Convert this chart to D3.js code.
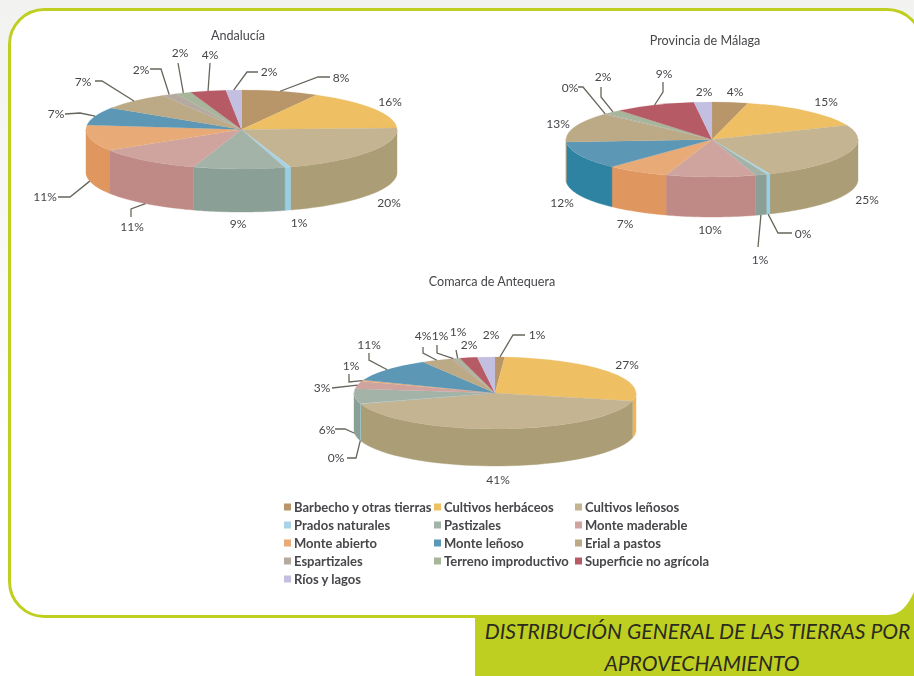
<!DOCTYPE html>
<html><head><meta charset="utf-8">
<style>html,body{margin:0;padding:0;background:#fff;overflow:hidden}svg{display:block}</style>
<script src="https://cdn.jsdelivr.net/npm/d3@7"></script></head><body>
<svg id="c" width="914" height="676" viewBox="0 0 914 676"></svg>
<script>
const categories = ["Barbecho y otras tierras","Cultivos herbáceos","Cultivos leñosos","Prados naturales","Pastizales","Monte maderable","Monte abierto","Monte leñoso","Erial a pastos","Espartizales","Terreno improductivo","Superficie no agrícola","Ríos y lagos"];
const andalucia = [8.0,16.4,20.49,0.6,9.49,11.2,10.6,7.4,7.3,1.6,1.6,3.7,1.6];
const malaga    = [4.0,15.0,25.0,0.4,1.3,10.0,7.0,12.0,13.0,0.4,2.0,9.0,2.0];
const antequera = [1.1,27.4,41.4,0.2,6.49,3.4,0.6,10.6,3.5,0.5,0.5,2.0,2.0];
const topColors  = ["#b8966a","#eec064","#c4b491","#a8d3e6","#a3b3a8","#cfa49f","#e8ab78","#5b97b5","#bca985","#b5aaa0","#a7b59a","#b65a66","#c3bfe0"];
const sideColors = ["#a88658","#ecb658","#ab9e76","#96cfe6","#8aa096","#bf8a85","#e0965f","#2f83a3","#a8946e","#a2978c","#93a287","#a24a56","#b0acd0"];

// Label placement (text centre, then the elbows of the leader running back to the slice).
const andaluciaLabels = [
  [341,78,[[330,77],[318,77]]],[390,102],[389,203],[299,223],[238,224],
  [132,227,[[131,217],[131,209]]],[45,197,[[58,197],[70,197]]],[56,114,[[65,114],[80,113]]],
  [83,82,[[95,81],[102,81]]],[141,70,[[150,69],[161,69]]],[180,53,[[178,63]]],[210,55,[[210,63]]],
  [269,72,[[258,72],[247,72]]]];
const malagaLabels = [
  [735,92],[826,102],[867,200],[803,234,[[792,233],[778,233]]],[760,260,[[758,247]]],
  [710,230],[625,224],[562,203],[558,124],[570,88,[[578,87],[583,87]]],
  [603,77,[[601,87],[601,97]]],[664,74,[[663,82],[663,92]]],[704,92]];
const antequeraLabels = [
  [537,335,[[525,335],[513,335]]],[627,365],[498,480],[336,458,[[347,458],[356,458]]],
  [327,430,[[335,429],[345,429]]],[322,388,[[332,388]]],[351,366,[[349,374],[349,382]]],
  [369,345,[[369,353],[369,360]]],[423,336,[[423,347],[423,353]]],[440,336,[[437,345],[437,353]]],
  [458,332,[[456,350]]],[469,345],[491,335]];

const pies = [
  {title:"Andalucía",tx:238,ty:35,values:andalucia,labels:andaluciaLabels,cx:241.5,cy:129.5,rx:155.5,ry:39.5,depth:43},
  {title:"Provincia de Málaga",tx:705,ty:40,values:malaga,labels:malagaLabels,cx:712,cy:139.5,rx:146,ry:37.5,depth:40},
  {title:"Comarca de Antequera",tx:492,ty:281,values:antequera,labels:antequeraLabels,cx:495,cy:393,rx:141,ry:36,depth:37}
];

const svg = d3.select("#c");
const FONT = "Lato, 'Noto Sans', sans-serif";
const GREEN = "#bfcf21", INK = "#46464a";
const defs = svg.append("defs");
defs.append("filter").attr("id","soft").attr("x","-5%").attr("y","-5%").attr("width","110%").attr("height","110%")
  .append("feGaussianBlur").attr("stdDeviation",0.55);
defs.append("filter").attr("id","softT").attr("x","-5%").attr("y","-20%").attr("width","110%").attr("height","140%")
  .append("feGaussianBlur").attr("stdDeviation",0.3);
const grad = defs.append("linearGradient").attr("id","paper").attr("x1",0).attr("y1",0).attr("x2",0).attr("y2",1);
grad.append("stop").attr("offset",0).attr("stop-color","#f2f2f1");
grad.append("stop").attr("offset",0.35).attr("stop-color","#f8f8f7");
grad.append("stop").attr("offset",0.7).attr("stop-color","#ffffff");

svg.append("rect").attr("width",914).attr("height",676).attr("fill","url(#paper)");
svg.append("rect").attr("x",9.5).attr("y",9.5).attr("width",912.5).attr("height",607)
  .attr("rx",35).attr("ry",35).attr("fill","#fff").attr("stroke",GREEN).attr("stroke-width",3);
// bottom-right corner of the frame runs into the caption band
svg.append("path").attr("d",d3.line().curve(d3.curveBasis)([[884,616],[898,614],[908,604],[914,592]])+"L914,618L884,618Z").attr("fill",GREEN);
svg.append("rect").attr("x",475).attr("y",616).attr("width",439).attr("height",60).attr("fill",GREEN);
const cap = svg.append("g").attr("font-family",FONT).attr("font-style","italic").attr("fill","#2a2a20").attr("font-size",21.1).attr("text-anchor","middle");
cap.append("text").attr("x",697.5).attr("y",639).text("DISTRIBUCIÓN GENERAL DE LAS TIERRAS POR");
cap.append("text").attr("x",702).attr("y",671).text("APROVECHAMIENTO");

const pieGen = d3.pie().sort(null).value(d=>d).startAngle(0).endAngle(2*Math.PI);
const frontStart = Math.PI/2, frontEnd = 3*Math.PI/2;

pies.forEach(p=>{
  const arcs = pieGen(p.values);
  const g = svg.append("g");
  const art = g.append("g").attr("filter","url(#soft)");
  const px = a => p.cx + p.rx*Math.sin(a);
  const py = a => p.cy - p.ry*Math.cos(a);
  const wall = d3.area().x(a=>px(a)).y0(a=>py(a)).y1(a=>py(a)+p.depth);
  // side wall: only the part of each slice facing the viewer
  arcs.forEach((s,i)=>{
    const a0=Math.max(s.startAngle,frontStart), a1=Math.min(s.endAngle,frontEnd);
    if(a1<=a0) return;
    const steps=d3.range(0,41).map(k=>a0+(a1-a0)*k/40);
    art.append("path").attr("d",wall(steps)).attr("fill",sideColors[i]).attr("stroke",sideColors[i]).attr("stroke-width",0.4);
  });
  // top face: circular arcs squashed into the ellipse
  const arc = d3.arc().innerRadius(0).outerRadius(p.rx);
  const top = art.append("g").attr("transform",`translate(${p.cx},${p.cy}) scale(1,${p.ry/p.rx})`);
  arcs.forEach((s,i)=>{
    top.append("path").attr("d",arc(s)).attr("fill",topColors[i]).attr("stroke",topColors[i]).attr("stroke-width",0.3);
  });
  // leaders + labels
  const line = d3.line();
  const txt = g.append("g").attr("filter","url(#softT)");
  arcs.forEach((s,i)=>{
    const l=p.labels[i]; if(!l) return;
    if(l[2]){
      const mid=(s.startAngle+s.endAngle)/2;
      const front=mid>frontStart&&mid<frontEnd;
      const anchor=[px(mid),py(mid)+(front?p.depth:0)];
      txt.append("path").attr("d",line([...l[2],anchor])).attr("fill","none").attr("stroke","#66665c").attr("stroke-width",1.3);
    }
    txt.append("text").attr("x",l[0]).attr("y",l[1]).attr("dy","0.36em").attr("text-anchor","middle")
      .attr("font-family",FONT).attr("font-size",12).attr("fill",INK).text(Math.round(s.value)+"%");
  });
  txt.append("text").attr("x",p.tx).attr("y",p.ty).attr("dy","0.36em").attr("text-anchor","middle")
    .attr("font-family",FONT).attr("font-size",12.6).attr("fill",INK).text(p.title);
});

// legend
const legendCols=[284,434,575], rowY=d3.scaleLinear().domain([0,4]).range([507,579]);
const leg=svg.append("g").attr("filter","url(#softT)");
categories.forEach((c,i)=>{
  const col=i%3,row=Math.floor(i/3);
  leg.append("rect").attr("x",legendCols[col]).attr("y",rowY(row)-3.5).attr("width",7).attr("height",7).attr("fill",topColors[i]);
  leg.append("text").attr("x",legendCols[col]+10).attr("y",rowY(row)).attr("dy","0.36em")
    .attr("font-family",FONT).attr("font-weight",700).attr("font-size",13).attr("fill",INK).text(c);
});
</script></body></html>
